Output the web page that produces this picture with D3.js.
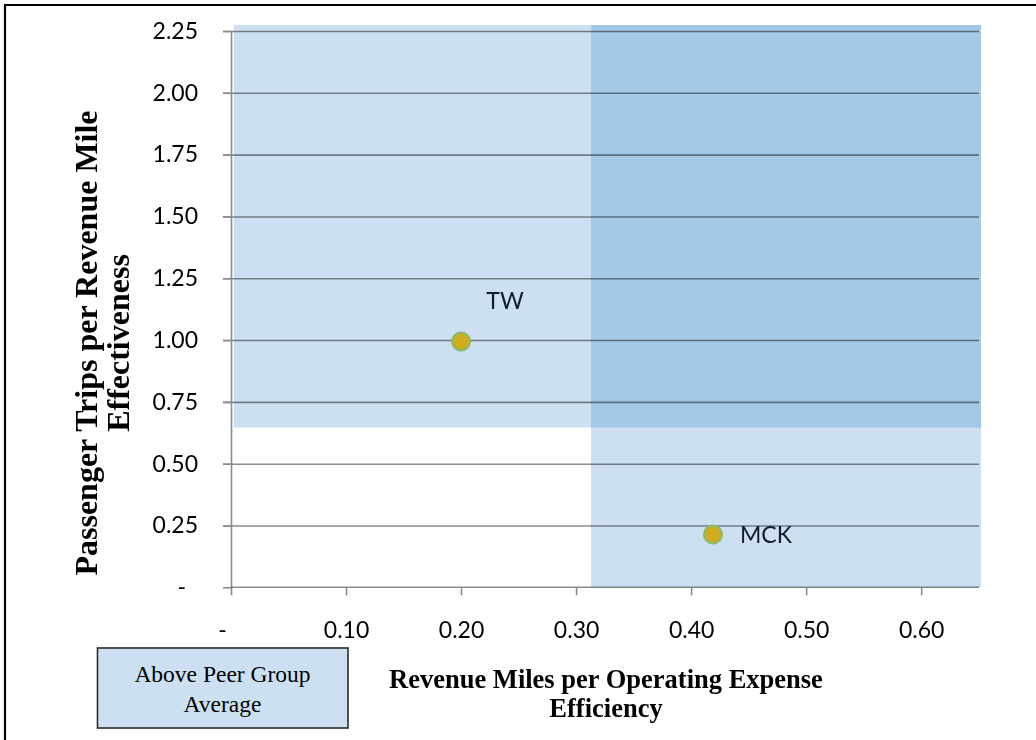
<!DOCTYPE html>
<html>
<head>
<meta charset="utf-8">
<script src="https://cdn.jsdelivr.net/npm/d3@7"></script>
<style>
  html, body { margin: 0; padding: 0; background: #fff; }
  svg { display: block; }
  .tick text { font-family: Lato, "Open Sans", sans-serif; }
</style>
</head>
<body>
<svg id="chart" width="1036" height="740"></svg>
<script>
// Agencies plotted on efficiency (x) vs effectiveness (y)
const agencies = ["TW", "MCK"];
const milesPerExpense = [0.200, 0.419];
const tripsPerMile = [0.994, 0.214];

// Peer group averages that define the "above average" bands
const peerAvgMilesPerExpense = 0.313;
const peerAvgTripsPerMile = 0.646;

// Axis ticks and extents
const xTickValues = [0, 0.1, 0.2, 0.3, 0.4, 0.5, 0.6];
const yTickValues = [0, 0.25, 0.5, 0.75, 1.0, 1.25, 1.5, 1.75, 2.0, 2.25];
const xDomain = [0, 0.652];
const yDomain = [0, 2.25];
const bandExtentX = [0.0023, 0.652];
const bandExtentY = [0, 2.274];

const xTitleLines = ["Revenue Miles per Operating Expense", "Efficiency"];
const yTitleLines = ["Passenger Trips per Revenue Mile", "Effectiveness"];
const legendLines = ["Above Peer Group", "Average"];

const svg = d3.select("#chart");

const x = d3.scaleLinear().domain(xDomain).range([231, 981]);
const y = d3.scaleLinear().domain(yDomain).range([587.3, 31]);

const bandFill = "#cde0f1";
const overlapFill = "#a4c9e6";
const gridColor = "#8c8c8c";
const fmt = v => v === 0 ? "-" : d3.format(".2f")(v);

// Outer frame (top and left edges)
svg.append("path")
  .attr("d", "M5,740 L5,5 L1036,5")
  .attr("fill", "none")
  .attr("stroke", "#000")
  .attr("stroke-width", 2.2);

// Above-average bands: vertical band for efficiency, horizontal band for
// effectiveness, and the darker region where both are above average
const bands = svg.append("g");
bands.append("rect")
  .attr("x", x(peerAvgMilesPerExpense))
  .attr("y", y(bandExtentY[1]))
  .attr("width", x(bandExtentX[1]) - x(peerAvgMilesPerExpense))
  .attr("height", y(bandExtentY[0]) - y(bandExtentY[1]))
  .attr("fill", bandFill);
bands.append("rect")
  .attr("x", x(bandExtentX[0]))
  .attr("y", y(bandExtentY[1]))
  .attr("width", x(bandExtentX[1]) - x(bandExtentX[0]))
  .attr("height", y(peerAvgTripsPerMile) - y(bandExtentY[1]))
  .attr("fill", bandFill);
bands.append("rect")
  .attr("x", x(peerAvgMilesPerExpense))
  .attr("y", y(bandExtentY[1]))
  .attr("width", x(bandExtentX[1]) - x(peerAvgMilesPerExpense))
  .attr("height", y(peerAvgTripsPerMile) - y(bandExtentY[1]))
  .attr("fill", overlapFill);

// Horizontal gridlines, with a short tick to the left of the axis
const grid = svg.append("g")
  .attr("transform", `translate(${x(0) - 8},0)`)
  .call(d3.axisRight(y).tickValues(yTickValues.filter(v => v > 0))
    .tickSize(x(xDomain[1]) - 2 - (x(0) - 8)).tickFormat(""));
grid.select(".domain").remove();
grid.selectAll(".tick line")
  .attr("stroke", gridColor)
  .attr("stroke-width", 1.6)
  .style("mix-blend-mode", "multiply");

// Y axis line and tick marks
const yAxis = svg.append("g")
  .attr("transform", `translate(${x(0)},0)`)
  .call(d3.axisLeft(y).tickValues(yTickValues).tickSize(8).tickSizeOuter(0).tickFormat(""));
yAxis.selectAll("path, line").attr("stroke", gridColor).attr("stroke-width", 1.6);

// Y tick labels
const yLabels = svg.append("g")
  .attr("transform", `translate(${x(0)},0)`)
  .call(d3.axisLeft(y).tickValues(yTickValues).tickSize(0).tickPadding(33).tickFormat(fmt));
yLabels.select(".domain").remove();
yLabels.selectAll("text")
  .attr("font-size", 23)
  .attr("fill", "#000")
  .attr("dx", d => d === 0 ? -12 : 0);

// X axis line and tick marks
const xAxis = svg.append("g")
  .attr("transform", `translate(0,${y(0)})`)
  .call(d3.axisBottom(x).tickValues(xTickValues).tickSize(8).tickSizeOuter(0).tickFormat(""));
xAxis.select(".domain")
  .attr("d", `M${x(0)},0H${x(xDomain[1]) - 2}`)
  .style("mix-blend-mode", "multiply");
xAxis.selectAll("path, line").attr("stroke", gridColor).attr("stroke-width", 1.6);

// X tick labels
const xLabels = svg.append("g")
  .attr("transform", `translate(0,${y(0)})`)
  .call(d3.axisBottom(x).tickValues(xTickValues).tickSize(0).tickPadding(34).tickFormat(fmt));
xLabels.select(".domain").remove();
xLabels.selectAll("text")
  .attr("font-size", 23)
  .attr("fill", "#000")
  .attr("dx", d => d === 0 ? -9 : 0);

// Agency points
const pts = agencies.map((name, i) => ({ name, x: milesPerExpense[i], y: tripsPerMile[i] }));
svg.append("g").selectAll("circle")
  .data(pts)
  .join("circle")
  .attr("cx", d => x(d.x))
  .attr("cy", d => y(d.y))
  .attr("r", 9)
  .attr("fill", "#d2ac1f")
  .attr("stroke", "#86bb6a")
  .attr("stroke-width", 2);

// Agency labels
const labelPlacement = {
  TW: { dx: 44, dy: -33, anchor: "middle" },
  MCK: { dx: 27, dy: 9, anchor: "start" }
};
svg.append("g").selectAll("text")
  .data(pts)
  .join("text")
  .attr("x", d => x(d.x) + labelPlacement[d.name].dx)
  .attr("y", d => y(d.y) + labelPlacement[d.name].dy)
  .attr("text-anchor", d => labelPlacement[d.name].anchor)
  .attr("font-family", "Lato, 'Open Sans', sans-serif")
  .attr("font-size", 23)
  .attr("fill", "#0e1c2b")
  .text(d => d.name);

// X axis title
svg.append("text")
  .attr("text-anchor", "middle")
  .attr("font-family", "'Liberation Serif', 'Times New Roman', serif")
  .attr("font-weight", "bold")
  .attr("font-size", 26.5)
  .selectAll("tspan")
  .data(xTitleLines)
  .join("tspan")
  .attr("x", 606)
  .attr("y", (d, i) => 688 + i * 29)
  .text(d => d);

// Y axis title
svg.append("text")
  .attr("transform", "rotate(-90)")
  .attr("text-anchor", "middle")
  .attr("font-family", "'Liberation Serif', 'Times New Roman', serif")
  .attr("font-weight", "bold")
  .attr("font-size", 32)
  .selectAll("tspan")
  .data(yTitleLines)
  .join("tspan")
  .attr("x", -343)
  .attr("y", (d, i) => 97 + i * 32)
  .text(d => d);

// Legend box for the shaded bands
const legend = svg.append("g");
legend.append("rect")
  .attr("x", 97.5)
  .attr("y", 648)
  .attr("width", 250.5)
  .attr("height", 80)
  .attr("fill", bandFill)
  .attr("stroke", "#2b2b2b")
  .attr("stroke-width", 1.6);
legend.append("text")
  .attr("text-anchor", "middle")
  .attr("font-family", "'Liberation Serif', 'Times New Roman', serif")
  .attr("font-size", 23.5)
  .attr("fill", "#000")
  .selectAll("tspan")
  .data(legendLines)
  .join("tspan")
  .attr("x", 222.5)
  .attr("y", (d, i) => 681.5 + i * 30)
  .text(d => d);
</script>
</body>
</html>
